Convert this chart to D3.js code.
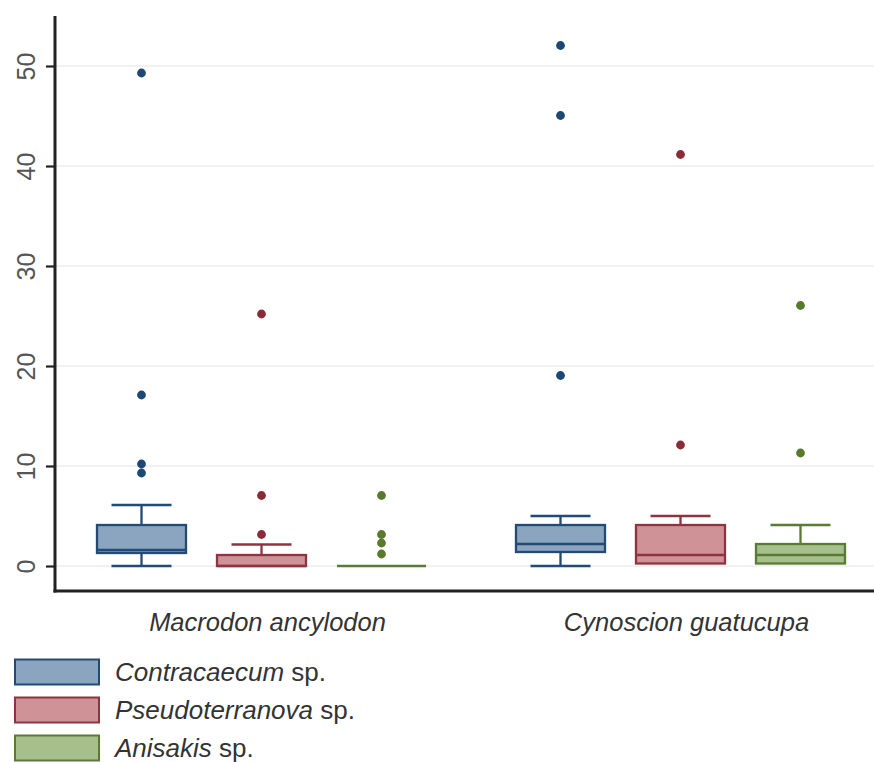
<!DOCTYPE html>
<html>
<head>
<meta charset="utf-8">
<script src="https://cdn.jsdelivr.net/npm/d3@7/dist/d3.min.js"></script>
<style>
  html, body { margin: 0; padding: 0; background: #fff; }
  svg { display: block; font-family: "Liberation Sans", Arial, sans-serif; }
</style>
</head>
<body>
<svg id="chart" width="874" height="762"></svg>
<script>
// ---- Data ----
const groups = ["Macrodon ancylodon", "Cynoscion guatucupa"];
const series = ["Contracaecum", "Pseudoterranova", "Anisakis"];
// indexed [group][series]
const whiskerLow  = [[0, 0, 0],       [0, 0.25, 0.25]];
const q1Values    = [[1.3, 0, 0],     [1.4, 0.25, 0.25]];
const medians     = [[1.6, 0, 0],     [2.2, 1.1, 1.1]];
const q3Values    = [[4.1, 1.1, 0],   [4.1, 4.1, 2.2]];
const whiskerHigh = [[6.1, 2.15, 0],  [5.0, 5.0, 4.1]];
const outliers    = [
  [[49.3, 17.1, 10.2, 9.3], [25.2, 7.05, 3.15], [7.05, 3.15, 2.3, 1.2]],
  [[52.05, 45.05, 19.05],   [41.15, 12.1],       [26.05, 11.3]]
];
const yTicks = [0, 10, 20, 30, 40, 50];
const fills   = ["#8ba4bf", "#cf9297", "#a7bf8c"];
const strokes = ["#214a74", "#8e3440", "#5a7b34"];
const dots    = ["#1c4873", "#8a2c38", "#587a2c"];

// ---- Layout ----
const svg = d3.select("#chart");
const plotLeft = 55, plotRight = 874, plotTop = 16, plotBottom = 591;

const y = d3.scaleLinear().domain([-2.5, 55]).range([plotBottom, plotTop]);
const xGroup = d3.scaleBand().domain(groups).range([52, 890]).padding(0);
const xSeries = d3.scalePoint().domain(series).range([-120, 120]);
const boxW = 89, capW = 60;

// gridlines
svg.append("g").selectAll("line").data(yTicks).join("line")
  .attr("x1", plotLeft).attr("x2", plotRight)
  .attr("y1", d => y(d)).attr("y2", d => y(d))
  .attr("stroke", "#ececec").attr("stroke-width", 1.5);

// boxes
groups.forEach((g, gi) => {
  series.forEach((s, si) => {
    const cx = xGroup(g) + xGroup.bandwidth() / 2 + xSeries(s);
    const grp = svg.append("g");
    const st = strokes[si];
    const sw = 2.3;
    // whiskers
    if (whiskerHigh[gi][si] > q3Values[gi][si]) {
      grp.append("line").attr("x1", cx).attr("x2", cx)
        .attr("y1", y(q3Values[gi][si])).attr("y2", y(whiskerHigh[gi][si]))
        .attr("stroke", st).attr("stroke-width", sw);
      grp.append("line").attr("x1", cx - capW / 2).attr("x2", cx + capW / 2)
        .attr("y1", y(whiskerHigh[gi][si])).attr("y2", y(whiskerHigh[gi][si]))
        .attr("stroke", st).attr("stroke-width", sw);
    }
    if (whiskerLow[gi][si] < q1Values[gi][si]) {
      grp.append("line").attr("x1", cx).attr("x2", cx)
        .attr("y1", y(q1Values[gi][si])).attr("y2", y(whiskerLow[gi][si]))
        .attr("stroke", st).attr("stroke-width", sw);
      grp.append("line").attr("x1", cx - capW / 2).attr("x2", cx + capW / 2)
        .attr("y1", y(whiskerLow[gi][si])).attr("y2", y(whiskerLow[gi][si]))
        .attr("stroke", st).attr("stroke-width", sw);
    }
    // box
    const h = y(q1Values[gi][si]) - y(q3Values[gi][si]);
    if (h > 0) {
      grp.append("rect")
        .attr("x", cx - boxW / 2).attr("y", y(q3Values[gi][si]))
        .attr("width", boxW).attr("height", h)
        .attr("fill", fills[si]).attr("stroke", st).attr("stroke-width", sw);
    }
    // median
    grp.append("line").attr("x1", cx - boxW / 2).attr("x2", cx + boxW / 2)
      .attr("y1", y(medians[gi][si])).attr("y2", y(medians[gi][si]))
      .attr("stroke", st).attr("stroke-width", sw);
    // outliers
    grp.selectAll("circle").data(outliers[gi][si]).join("circle")
      .attr("cx", cx).attr("cy", d => y(d)).attr("r", 4.4)
      .attr("fill", dots[si]);
  });
});

// y axis
const yAxis = d3.axisLeft(y).tickValues(yTicks).tickSize(9).tickPadding(0).tickFormat(d3.format("d"));
const ya = svg.append("g").attr("transform", `translate(${plotLeft},0)`).call(yAxis);
ya.select(".domain").remove();
ya.selectAll(".tick line").attr("stroke", "#222").attr("stroke-width", 2.2);
ya.selectAll(".tick text").remove();
ya.selectAll(".tick").append("text")
  .attr("transform", "translate(-29,0) rotate(-90)")
  .attr("text-anchor", "middle").attr("dy", "0.36em")
  .attr("fill", "#555").attr("font-size", 25)
  .text(d => d);
svg.append("line").attr("x1", plotLeft).attr("x2", plotLeft)
  .attr("y1", plotTop).attr("y2", plotBottom + 1.5)
  .attr("stroke", "#222").attr("stroke-width", 3);

// x axis line
svg.append("line").attr("x1", plotLeft - 1.5).attr("x2", plotRight)
  .attr("y1", plotBottom).attr("y2", plotBottom)
  .attr("stroke", "#222").attr("stroke-width", 3);

// group labels
svg.append("g").selectAll("text").data(groups).join("text")
  .attr("x", d => xGroup(d) + xGroup.bandwidth() / 2 + 6)
  .attr("y", 631)
  .attr("text-anchor", "middle")
  .attr("font-size", 25.5).attr("font-style", "italic").attr("fill", "#333")
  .text(d => d);

// legend
const leg = svg.append("g");
series.forEach((s, i) => {
  const yy = 659.5 + i * 38;
  leg.append("rect").attr("x", 15).attr("y", yy).attr("width", 84).attr("height", 25)
    .attr("fill", fills[i]).attr("stroke", strokes[i]).attr("stroke-width", 2);
  const t = leg.append("text").attr("x", 115).attr("y", yy + 21)
    .attr("font-size", 26).attr("fill", "#333");
  t.append("tspan").attr("font-style", "italic").text(s);
  t.append("tspan").text(" sp.");
});
</script>
</body>
</html>
